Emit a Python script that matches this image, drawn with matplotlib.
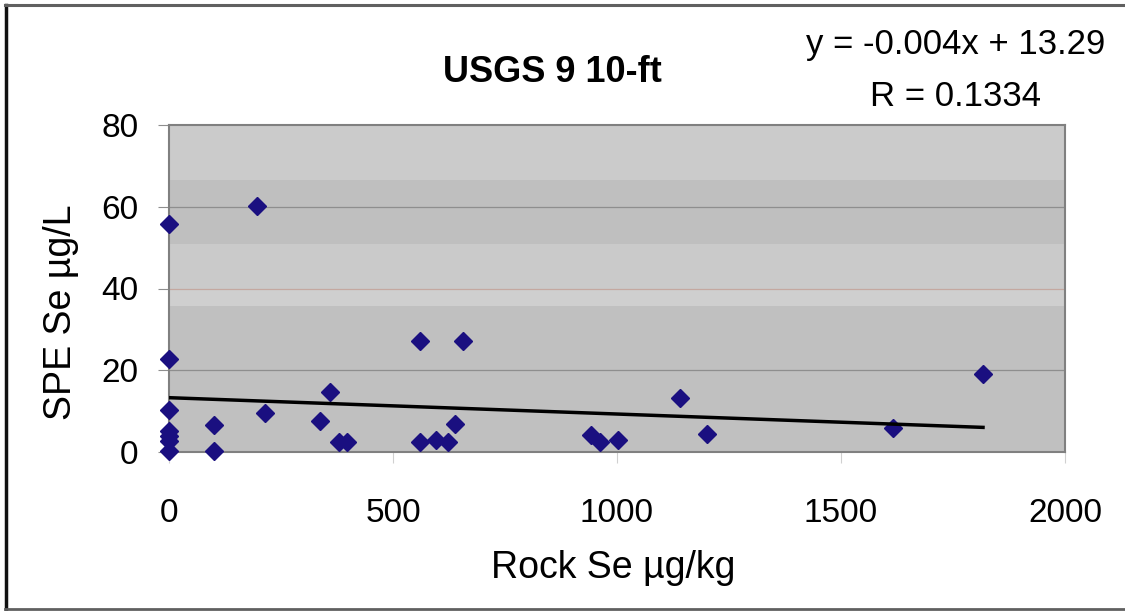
import matplotlib
matplotlib.use("Agg")
import matplotlib.pyplot as plt
from matplotlib.lines import Line2D

plt.rcParams['font.family'] = ['Liberation Sans', 'DejaVu Sans']

# data
rock_se = [0, 0, 0, 0, 0, 0, 0,
           101, 101, 196, 215, 336, 360, 379, 398,
           561, 561, 596, 622, 639, 657,
           943, 962, 1003, 1141, 1201, 1617, 1817]
spe_se = [55.7, 22.7, 10.3, 5.2, 4.0, 2.6, 0.2,
          6.7, 0.2, 60.2, 9.5, 7.5, 14.7, 2.4, 2.4,
          27.2, 2.4, 3.0, 2.4, 6.8, 27.2,
          4.2, 2.5, 2.9, 13.2, 4.5, 5.9, 19.1]
slope = -0.004
intercept = 13.29
r_value = 0.1334

x_ticks = [0, 500, 1000, 1500, 2000]
y_ticks = [0, 20, 40, 60, 80]

W, H = 1125, 611
fig = plt.figure(figsize=(W / 100, H / 100), dpi=100)
ax = fig.add_axes([169 / W, 1 - 452 / H, (1065 - 169) / W, (452 - 125) / H])

# shaded background bands
ax.set_facecolor('#c0c0c0')
ax.axhspan(66.6, 80, color='#cbcbcb', lw=0, zorder=0)
ax.axhspan(50.9, 66.6, color='#bfbfbf', lw=0, zorder=0)
ax.axhspan(39.7, 50.9, color='#cacaca', lw=0, zorder=0)
ax.axhspan(35.6, 39.7, color='#cfcfcf', lw=0, zorder=0)

for yv in [20, 60]:
    ax.axhline(yv, color='#8e8e8e', lw=0.9, zorder=1)
ax.axhline(40, color='#c4a8a0', lw=0.9, zorder=1)

ax.plot(rock_se, spe_se, linestyle='none', marker='D', markersize=9.3,
        color='#1a0f80', zorder=3, clip_on=False)

x_fit = [0, max(rock_se)]
y_fit = [intercept + slope * v for v in x_fit]
ax.plot(x_fit, y_fit, color='black', lw=2.5, zorder=4)

ax.set_xlim(0, 2000)
ax.set_ylim(0, 80)
ax.set_xticks(x_ticks)
ax.set_yticks(y_ticks)
ax.tick_params(axis='x', length=8, color='#d0d0d0', labelsize=24, pad=25)
ax.tick_params(axis='y', length=8, color='#8e8e8e', labelsize=24, pad=14)
for s in ax.spines.values():
    s.set_color('#808080')
    s.set_linewidth(1.5)

fig.text(552 / W, 1 - 81.7 / H, 'USGS 9 10-ft', ha='center', va='baseline',
         fontsize=26, fontweight='bold')
fig.text(956 / W, 1 - 54 / H, 'y = -0.004x + 13.29', ha='center',
         va='baseline', fontsize=25)
fig.text(955 / W, 1 - 105.7 / H, 'R = %.4f' % r_value, ha='center',
         va='baseline', fontsize=25)
fig.text(613 / W, 1 - 578 / H, 'Rock Se µg/kg', ha='center', va='baseline',
         fontsize=27)
fig.text(61 / W, 1 - 312 / H, 'SPE Se µg/L', ha='center', va='center',
         rotation=90, fontsize=27)

# chart frame
fig.add_artist(Line2D([6 / W, 6 / W], [1 - 5 / H, 1 - 609 / H],
                      transform=fig.transFigure, color='#111111', lw=2.5))
fig.add_artist(Line2D([5 / W, 1], [1 - 5 / H, 1 - 5 / H],
                      transform=fig.transFigure, color='#606060', lw=2.2))
fig.add_artist(Line2D([5 / W, 1], [1 - 609 / H, 1 - 609 / H],
                      transform=fig.transFigure, color='#606060', lw=2.0))

fig.savefig('out.png', dpi=100, facecolor='white')
